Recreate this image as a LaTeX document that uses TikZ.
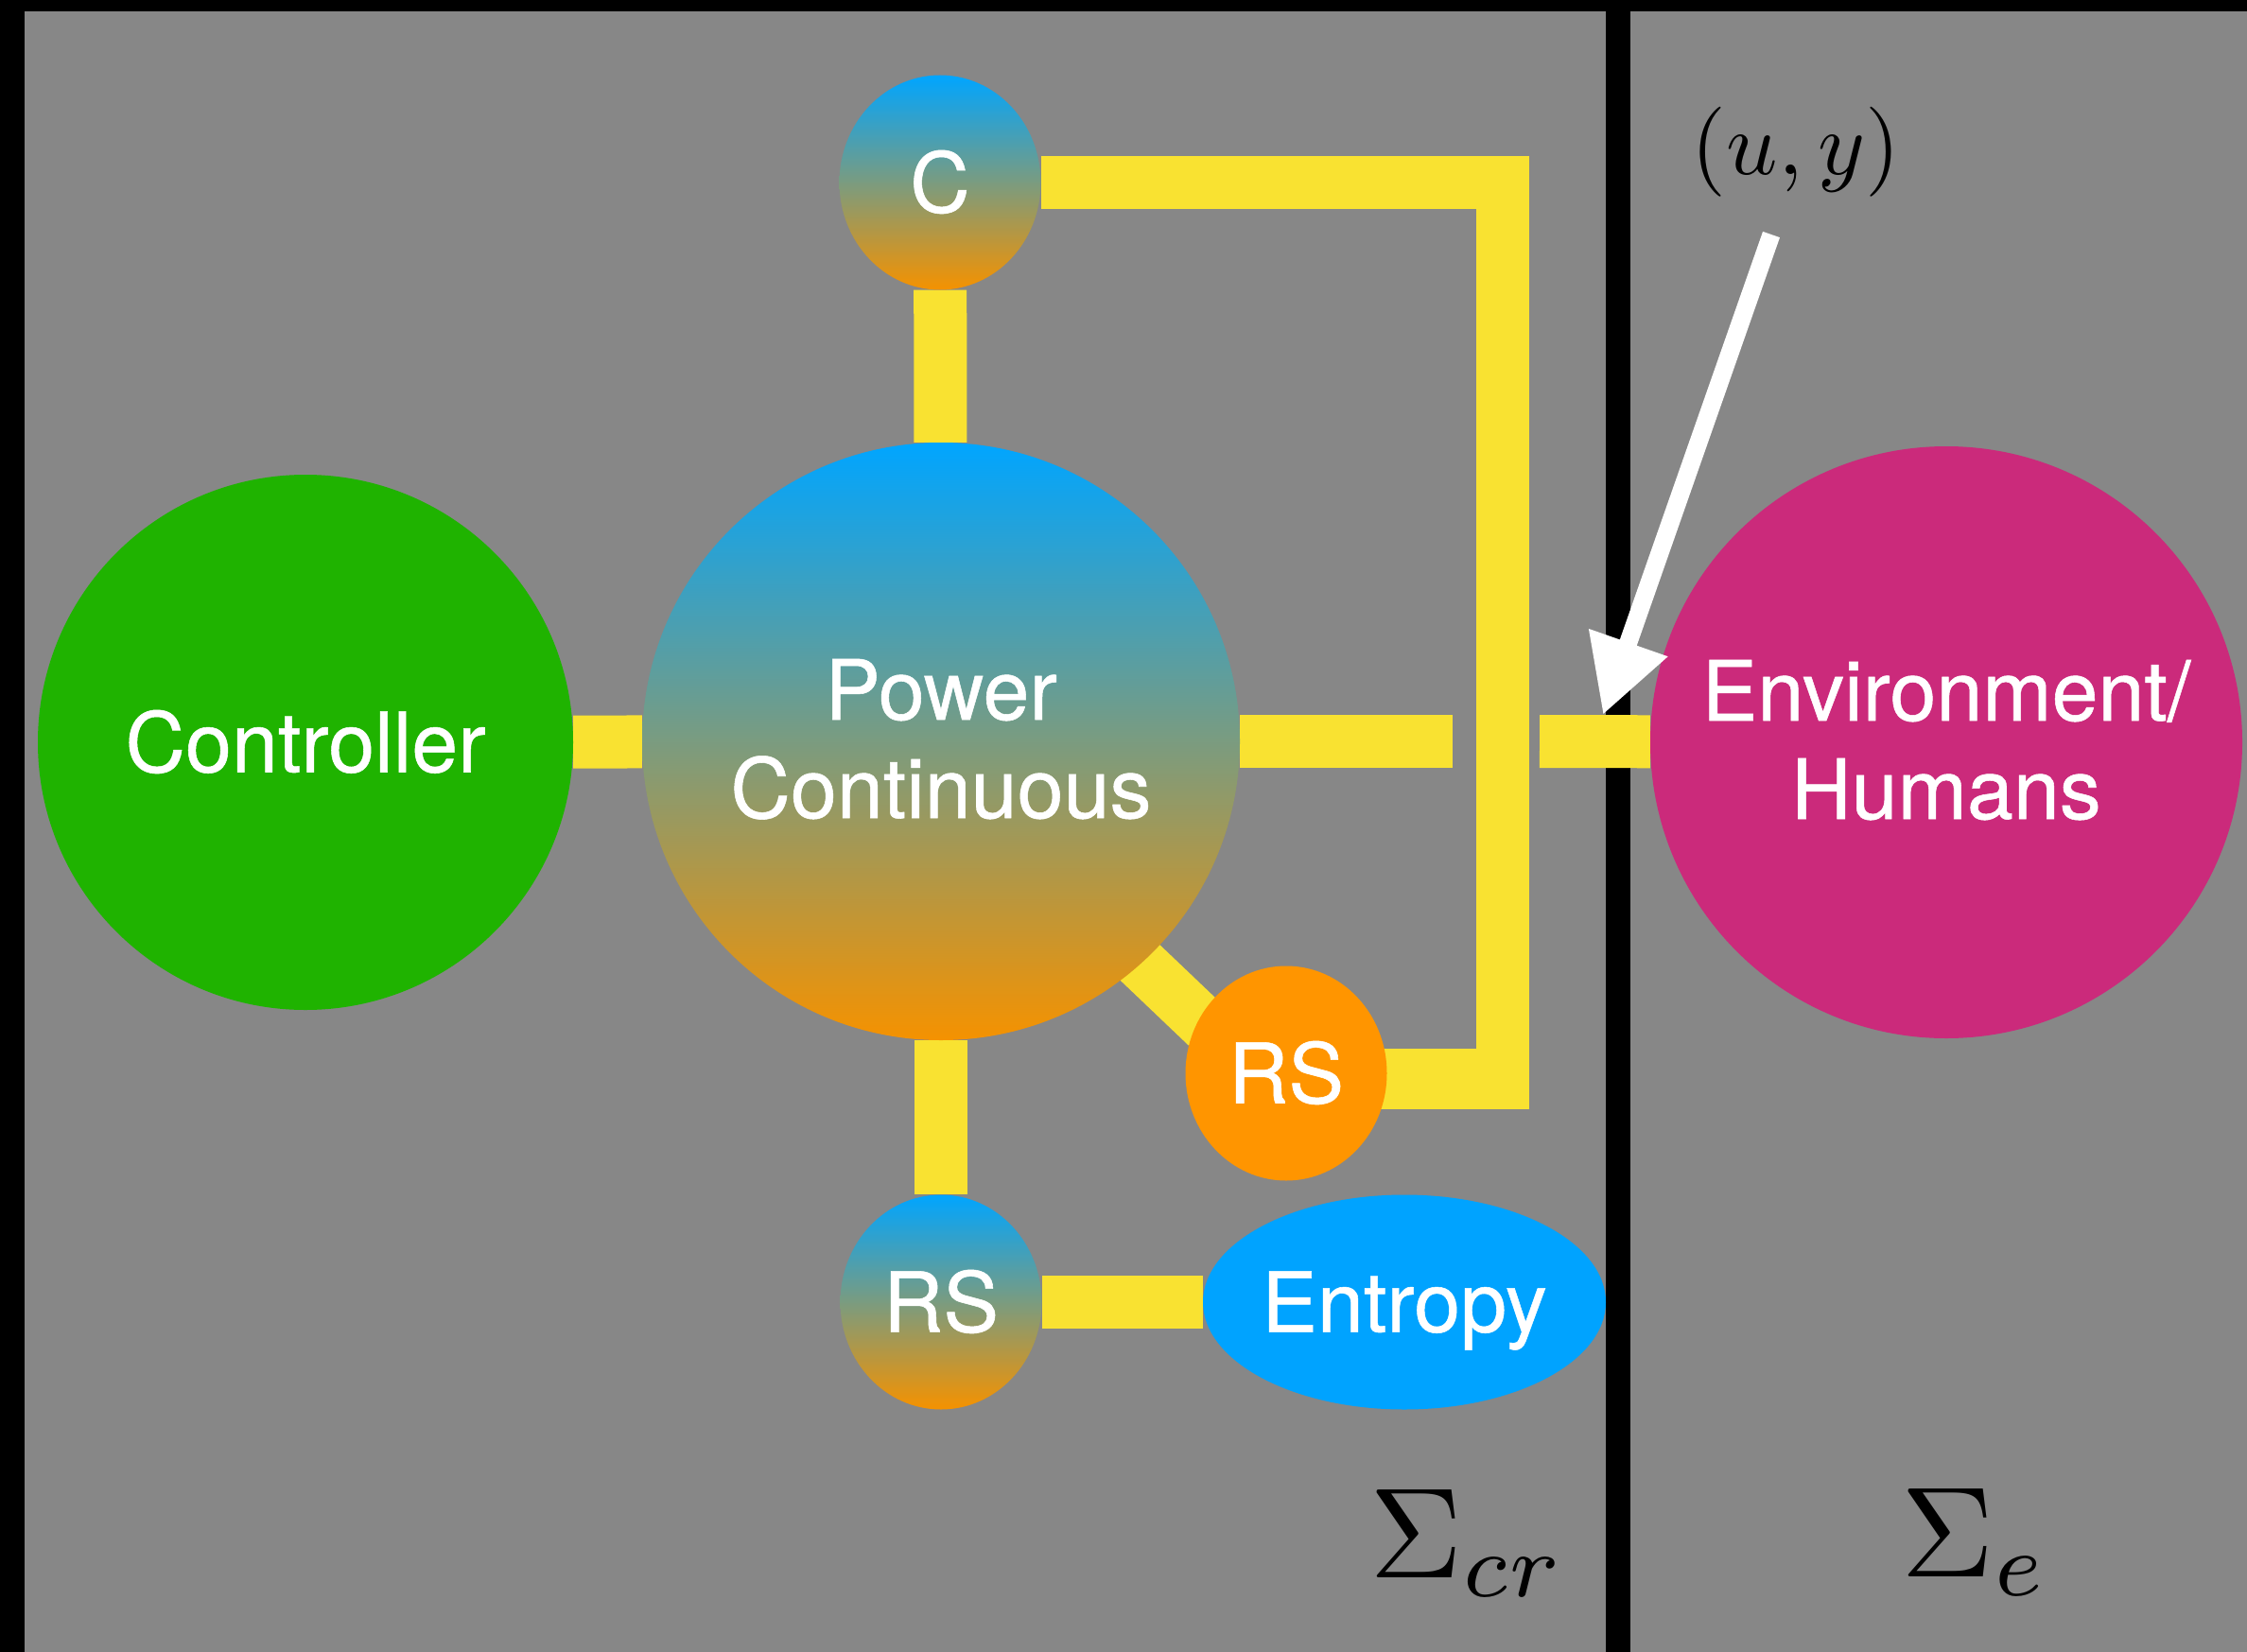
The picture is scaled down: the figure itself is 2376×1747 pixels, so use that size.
\documentclass[tikz,border=0pt]{standalone}
\usepackage{fontspec}
\newfontfamily\hv[FakeBold=0.6]{TeX Gyre Heros}
\usetikzlibrary{arrows.meta,shapes.geometric,calc}
\definecolor{bgGray}{HTML}{878787}
\definecolor{wireY}{HTML}{F9E231}
\definecolor{ctrlG}{HTML}{1FB300}
\definecolor{entB}{HTML}{00A3FF}
\definecolor{rsO}{HTML}{FF9500}
\definecolor{envM}{HTML}{CB2A7B}
\definecolor{gTop}{HTML}{00A5FF}
\definecolor{gBot}{HTML}{F59200}
\pgfdeclarelayer{back}
\pgfdeclarelayer{lines}
\pgfsetlayers{back,lines,main}
\tikzset{
  blob/.style={circle, draw=none, inner sep=0pt, minimum size=#1},
  oval/.style={ellipse, draw=none, inner sep=0pt, minimum width=213pt, minimum height=227pt},
  grad/.style={top color=gTop, bottom color=gBot},
  lbl/.style={text=white, font=\hv\fontsize{88}{104}\selectfont, inner sep=0pt, text height=63pt, text depth=0pt},
  lbltwo/.style={lbl, align=center, text height=162pt, text depth=0pt},
  wire/.style={draw=wireY, line width=56pt, line join=miter, line cap=butt},
  mathlbl/.style={anchor=base west, inner sep=0pt, text=black, transform shape},
}
\begin{document}
\begin{tikzpicture}[x=1pt, y=-1pt]
\useasboundingbox (0,0) rectangle (2376,1747);
\begin{pgfonlayer}{back}
  \fill[bgGray] (0,0) rectangle (2376,1747);
  \fill[black] (0,0) rectangle (2376,12);
  \fill[black] (0,0) rectangle (26,1747);
  \fill[black] (1698,0) rectangle (1724,1747);
\end{pgfonlayer}

\node[blob=566pt, fill=ctrlG] (ctrl) at (323,785) {};
\node[blob=632pt, grad] (pc) at (995,784) {};
\node[oval, grad] (cc) at (994,193) {};
\node[oval, grad] (rsb) at (995,1377) {};
\node[oval, fill=rsO] (rso) at (1360,1135) {};
\node[ellipse, draw=none, fill=entB, inner sep=0pt, minimum width=426pt, minimum height=227pt] (ent) at (1485,1377) {};
\node[blob=626pt, fill=envM] (env) at (2058,785) {};

\node[lbl] (ctrlT) at (ctrl) {Controller};
\node[lbltwo] (pcT) at (pc) {Power\\Continuous};
\node[lbl] (ccT) at (cc) {C};
\node[lbl] (rsbT) at (rsb) {RS};
\node[lbl] (rsoT) at (rso) {RS};
\node[lbl] (entT) at (ent) {Entropy};
\node[lbltwo] (envT) at (env) {Environment/\\Humans};

\coordinate (g1) at (1536,784);
\coordinate (g2) at (1628,784);
\coordinate (kb) at (1588.5,1173);
\coordinate (k3) at (1616,1140.5);
\begin{pgfonlayer}{lines}
  \draw[wire] (ctrl) -- (pc);
  \draw[wire] (cc) -- (pc);
  \draw[wire] (pc) -- (rsb);
  \draw[wire] (rsb) -- (ent);
  \draw[wire] ($(pc.-48.4)!-40pt!(rso.148.6)$) -- ($(rso.148.6)!-40pt!(pc.-48.4)$);
  \draw[wire] (pc) -- (g1);
  \draw[wire] (g2) -- (env);
  \draw[wire] (cc) -| (kb);
  \draw[wire, line width=64pt] (k3) -- (k3 -| rso);
\end{pgfonlayer}

\coordinate (aS) at (1873,248);
\coordinate (aE) at (1695,756);
\draw[white, line width=19pt, -{Triangle[length=81pt,width=83pt]}] (aS) -- (aE);

\node[mathlbl, scale=9.5] (uy) at (1787,185) {$(u,y)$};
\node[mathlbl, scale=13.6] (scr) at (1446,1668) {$\Sigma_{cr}$};
\node[mathlbl, scale=13.6] (se) at (2008,1667) {$\Sigma_{e}$};
\end{tikzpicture}
\end{document}
